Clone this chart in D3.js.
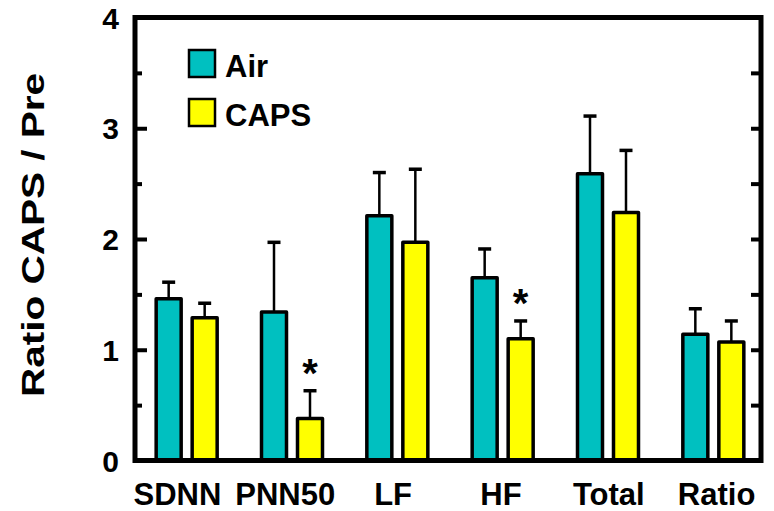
<!DOCTYPE html>
<html>
<head>
<meta charset="utf-8">
<script src="https://cdn.jsdelivr.net/npm/d3@7"></script>
<style>
  html, body { margin: 0; padding: 0; background: #fff; }
  svg { display: block; font-family: Arial, "Liberation Sans", Helvetica, sans-serif; font-weight: bold; }
</style>
</head>
<body>
<svg id="chart" width="774" height="511"></svg>
<script>
// HRV measures, ratio of CAPS exposure to pre-exposure
const categories = ["SDNN", "PNN50", "LF", "HF", "Total", "Ratio"];
const seriesNames = ["Air", "CAPS"];
const airValues  = [1.46, 1.34, 2.21, 1.65, 2.59, 1.14];
const airErrors  = [0.15, 0.63, 0.39, 0.26, 0.52, 0.23];
const capsValues = [1.29, 0.38, 1.97, 1.10, 2.24, 1.07];
const capsErrors = [0.13, 0.25, 0.66, 0.16, 0.56, 0.19];
const capsSignificant = [false, true, false, true, false, false];
const yTicks = [0, 1, 2, 3, 4];
const yMinorTicks = [0.5, 1.5, 2.5, 3.5];
const colors = { Air: "#00C0C0", CAPS: "#FFFF00" };

const svg = d3.select("#chart");

const plot = { left: 135, right: 761, top: 17.5, bottom: 460.5 };

const y = d3.scaleLinear().domain([0, 4]).range([plot.bottom, plot.top]);
// group slots for the bars, and a slightly wider spread for the category captions
const x = d3.scaleBand().domain(categories).range([134, 766]).padding(0);
const xLabel = d3.scaleBand().domain(categories).range([123.5, 770.5]).padding(0);
const xs = d3.scaleBand().domain(seriesNames).range([-30.5, 30.5]).paddingInner(11 / 36);

const rows = categories.map((c, i) => ({
  cat: c,
  bars: [
    { series: "Air", value: airValues[i], err: airErrors[i], sig: false },
    { series: "CAPS", value: capsValues[i], err: capsErrors[i], sig: capsSignificant[i] }
  ]
}));

// Bars with upward error whiskers
const groups = svg.selectAll("g.group").data(rows).join("g")
  .attr("class", "group")
  .attr("transform", d => `translate(${x(d.cat) + x.bandwidth() / 2},0)`);

const bar = groups.selectAll("g.bar").data(d => d.bars).join("g").attr("class", "bar");

bar.append("line")
  .attr("x1", d => xs(d.series) + xs.bandwidth() / 2)
  .attr("x2", d => xs(d.series) + xs.bandwidth() / 2)
  .attr("y1", d => y(d.value))
  .attr("y2", d => y(d.value + d.err))
  .attr("stroke", "#000").attr("stroke-width", 2.5);

bar.append("line")
  .attr("x1", d => xs(d.series) + xs.bandwidth() / 2 - 6.5)
  .attr("x2", d => xs(d.series) + xs.bandwidth() / 2 + 6.5)
  .attr("y1", d => y(d.value + d.err))
  .attr("y2", d => y(d.value + d.err))
  .attr("stroke", "#000").attr("stroke-width", 3.5);

bar.append("rect")
  .attr("x", d => xs(d.series))
  .attr("width", xs.bandwidth())
  .attr("y", d => y(d.value))
  .attr("height", d => y(0) - y(d.value))
  .attr("fill", d => colors[d.series])
  .attr("stroke", "#000").attr("stroke-width", 3.5)
  .attr("stroke-linejoin", "round");

// Significance markers
bar.filter(d => d.sig).append("text")
  .attr("x", d => xs(d.series) + xs.bandwidth() / 2)
  .attr("y", d => y(d.value + d.err) - 4)
  .attr("text-anchor", "middle")
  .attr("font-size", 40)
  .text("*");

// Frame
const frame = svg.append("g");
frame.append("rect")
  .attr("x", plot.left).attr("y", plot.top)
  .attr("width", plot.right - plot.left).attr("height", plot.bottom - plot.top)
  .attr("fill", "none").attr("stroke", "#000").attr("stroke-width", 5);

// Left axis: major ticks longer, minor ticks shorter
frame.append("g").attr("transform", `translate(${plot.left},0)`)
  .call(d3.axisRight(y).tickValues(yTicks).tickSize(12).tickFormat(""))
  .call(g => g.select(".domain").remove())
  .call(g => g.selectAll(".tick line").attr("stroke", "#000").attr("stroke-width", 4));
frame.append("g").attr("transform", `translate(${plot.left},0)`)
  .call(d3.axisRight(y).tickValues(yMinorTicks).tickSize(7).tickFormat(""))
  .call(g => g.select(".domain").remove())
  .call(g => g.selectAll(".tick line").attr("stroke", "#000").attr("stroke-width", 4));

// Right axis ticks
frame.append("g").attr("transform", `translate(${plot.right},0)`)
  .call(d3.axisLeft(y).tickValues(yTicks.concat(yMinorTicks)).tickSize(10).tickFormat(""))
  .call(g => g.select(".domain").remove())
  .call(g => g.selectAll(".tick line").attr("stroke", "#000").attr("stroke-width", 4));

// Y tick labels
svg.append("g").selectAll("text").data(yTicks).join("text")
  .attr("x", 119)
  .attr("y", d => y(d) + 11)
  .attr("text-anchor", "end")
  .attr("font-size", 30)
  .text(d => d3.format("d")(d));

// Category labels
svg.append("g").selectAll("text").data(categories).join("text")
  .attr("x", d => xLabel(d) + xLabel.bandwidth() / 2)
  .attr("y", 505)
  .attr("text-anchor", "middle")
  .attr("font-size", 31)
  .text(d => d);

// Y axis title
svg.append("text")
  .attr("transform", "translate(44,235) rotate(-90)")
  .attr("text-anchor", "middle")
  .attr("font-size", 32)
  .attr("textLength", 324)
  .attr("lengthAdjust", "spacingAndGlyphs")
  .text("Ratio CAPS / Pre");

// Legend
const legend = svg.append("g").selectAll("g").data(seriesNames).join("g")
  .attr("transform", (d, i) => `translate(189,${50 + i * 49})`);
legend.append("rect")
  .attr("width", 26).attr("height", 27)
  .attr("fill", d => colors[d])
  .attr("stroke", "#000").attr("stroke-width", 2.5);
legend.append("text")
  .attr("x", 36).attr("y", 27)
  .attr("font-size", 31)
  .text(d => d);
</script>
</body>
</html>
